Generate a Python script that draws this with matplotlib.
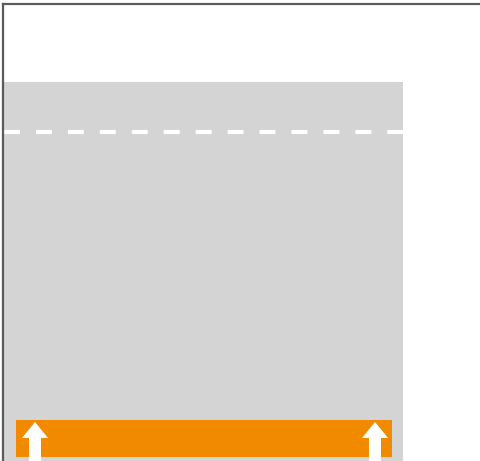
import matplotlib
matplotlib.use("Agg")
import matplotlib.pyplot as plt

# chart values (pixel-like units, y grows upward from the bottom edge)
band_x = [1, 400]
band_top = 379
threshold = 329
bar_x = [13, 389]
bar_y = [4, 41]
arrow_x = [32, 372]
arrow_tip = 39

plt.rcParams['lines.scale_dashes'] = False

fig = plt.figure(figsize=(4.81, 4.61), dpi=100)
ax = fig.add_axes([3 / 481, 0, 478 / 481, 457 / 461])
ax.set_xlim(0, 478)
ax.set_ylim(0, 457)

ax.axvspan(band_x[0], band_x[1], ymin=0, ymax=band_top / 457, color='#d3d4d3', lw=0, zorder=1)
ax.plot(band_x, [threshold, threshold], color='white', lw=3, dashes=(11.5, 11.5), zorder=2)
ax.fill_between(bar_x, bar_y[0], bar_y[1], color='#f28a00', lw=0, zorder=3)

for x in arrow_x:
    ax.arrow(x, -4, 0, arrow_tip + 4, width=12, head_width=26, head_length=16,
             length_includes_head=True, color='white', lw=0, zorder=4, clip_on=False)

for s in ['right', 'bottom']:
    ax.spines[s].set_visible(False)
for s in ['left', 'top']:
    ax.spines[s].set_color('#5a5a5a')
    ax.spines[s].set_linewidth(1.6)
ax.set_xticks([])
ax.set_yticks([])

fig.savefig('out.png', dpi=100)
